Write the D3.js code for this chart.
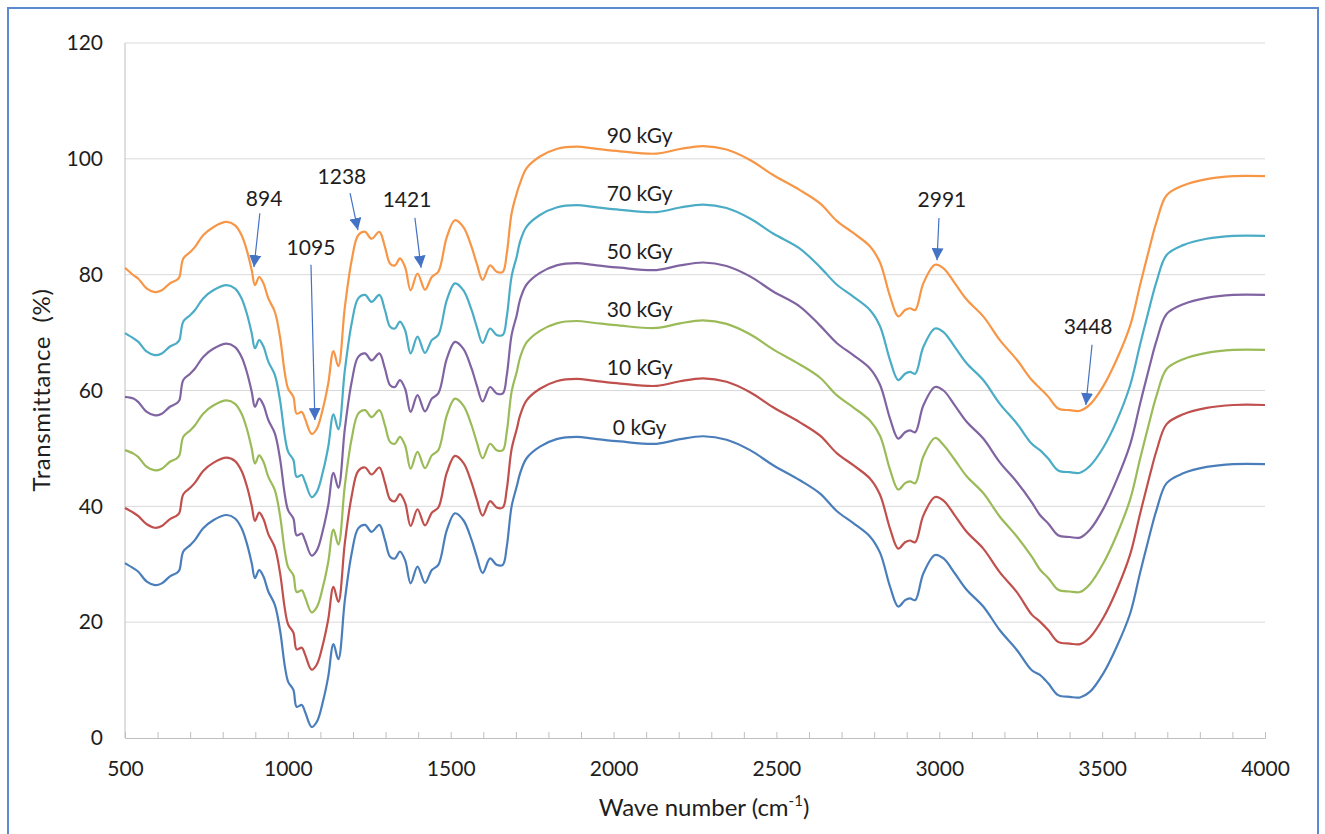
<!DOCTYPE html>
<html>
<head>
<meta charset="utf-8">
<script src="https://cdn.jsdelivr.net/npm/d3@7"></script>
<style>
  body { margin: 0; background: #fff; }
  text { font-family: Lato, "Open Sans", sans-serif; fill: #1e1e1e; }
</style>
</head>
<body>
<div id="chart"></div>
<script>
// FTIR spectra, stacked by dose
var wavenumbers = [500, 526, 541, 567, 592, 613, 638, 659, 667, 679, 700, 715, 740, 771, 812, 838, 858, 874, 889, 899,
  912, 925, 940, 960, 976, 991, 1001, 1017, 1027, 1043, 1053, 1073, 1089, 1109, 1124, 1140, 1155, 1175, 1196, 1216,
  1237, 1257, 1281, 1298, 1314, 1329, 1344, 1360, 1377, 1398, 1421, 1442, 1462, 1488, 1513, 1539, 1564, 1580, 1598, 1621,
  1641, 1660, 1672, 1687, 1703, 1713, 1733, 1774, 1825, 1887, 1938, 2020, 2132, 2204, 2275, 2347, 2419, 2490, 2572, 2634,
  2685, 2736, 2787, 2818, 2849, 2874, 2895, 2910, 2926, 2951, 2987, 3013, 3048, 3084, 3135, 3186, 3238, 3284, 3309, 3335,
  3365, 3401, 3432, 3463, 3504, 3545, 3586, 3616, 3647, 3667, 3698, 3749, 3821, 3903, 4000];

var dose0 = [30.2, 29.3, 28.7, 27.0, 26.4, 26.7, 27.9, 28.5, 29.0, 32.2, 33.3, 34.2, 36.2, 37.6, 38.5, 37.9, 36.2, 33.6, 30.2, 27.6,
  29.0, 27.9, 25.3, 23.0, 18.6, 12.3, 9.7, 8.3, 5.4, 5.7, 4.5, 1.9, 2.8, 6.6, 10.6, 16.2, 13.6, 23.8, 31.9, 36.2,
  36.8, 35.6, 36.8, 34.2, 31.3, 31.0, 32.2, 30.7, 26.7, 29.6, 26.8, 29.0, 29.9, 35.9, 38.8, 37.6, 34.2, 31.3, 28.5, 31.0,
  29.9, 29.9, 33.0, 40.0, 43.5, 45.7, 48.3, 50.3, 51.6, 52.0, 51.7, 51.2, 50.8, 51.6, 52.1, 51.5, 49.7, 47.1, 44.5, 42.2,
  39.2, 37.1, 34.8, 32.0, 26.1, 22.7, 23.8, 24.1, 23.8, 28.4, 31.6, 31.0, 28.4, 25.6, 22.7, 18.6, 15.2, 11.7, 10.9, 9.4,
  7.4, 7.1, 7.0, 8.0, 11.2, 15.8, 21.5, 28.4, 35.3, 39.4, 44.0, 45.7, 46.8, 47.3, 47.3];

var dose10 = [39.7, 38.9, 38.3, 36.9, 36.3, 36.6, 37.8, 38.4, 38.9, 42.1, 43.2, 44.1, 46.1, 47.5, 48.4, 47.8, 46.1, 43.5, 40.1, 37.5,
  38.9, 37.8, 35.2, 32.9, 28.5, 22.2, 19.6, 18.2, 15.3, 15.6, 14.4, 11.8, 12.7, 16.5, 20.5, 26.1, 23.5, 33.7, 41.8, 46.1,
  46.7, 45.5, 46.7, 44.1, 41.2, 40.9, 42.1, 40.6, 36.6, 39.5, 36.7, 38.9, 39.8, 45.8, 48.7, 47.5, 44.1, 41.2, 38.4, 40.9,
  39.8, 39.8, 42.9, 49.9, 53.4, 55.7, 58.3, 60.3, 61.6, 62.0, 61.7, 61.2, 60.8, 61.6, 62.1, 61.5, 59.7, 57.1, 54.5, 52.2,
  49.2, 47.1, 44.8, 42.0, 36.1, 32.7, 33.8, 34.1, 33.8, 38.4, 41.6, 41.0, 38.4, 35.6, 32.7, 28.6, 25.2, 21.3, 20.1, 18.6,
  16.6, 16.3, 16.2, 17.4, 20.8, 25.6, 31.7, 38.6, 45.5, 49.6, 54.2, 55.9, 57.0, 57.5, 57.5];

var dose30 = [49.7, 49.1, 48.5, 46.8, 46.2, 46.5, 47.7, 48.3, 48.8, 52.0, 53.1, 54.0, 56.0, 57.4, 58.3, 57.7, 56.0, 53.4, 50.0, 47.4,
  48.8, 47.7, 45.1, 42.8, 38.4, 32.1, 29.5, 28.1, 25.2, 25.5, 24.3, 21.7, 22.6, 26.4, 30.4, 36.0, 33.4, 43.6, 51.7, 56.0,
  56.6, 55.4, 56.6, 54.0, 51.1, 50.8, 52.0, 50.5, 46.5, 49.4, 46.6, 48.8, 49.7, 55.7, 58.6, 57.4, 54.0, 51.1, 48.3, 50.8,
  49.7, 49.7, 52.8, 59.8, 63.3, 65.7, 68.3, 70.3, 71.6, 72.0, 71.7, 71.2, 70.8, 71.6, 72.1, 71.5, 69.7, 67.1, 64.5, 62.2,
  59.2, 57.1, 54.8, 52.2, 46.3, 42.9, 44.0, 44.3, 44.0, 48.6, 51.8, 50.6, 48.0, 45.2, 42.3, 38.2, 34.8, 31.3, 29.1, 27.6,
  25.6, 25.3, 25.2, 26.6, 30.2, 35.1, 41.2, 48.1, 55.0, 59.1, 63.7, 65.4, 66.5, 67.0, 67.0];

var dose50 = [58.9, 58.6, 58.0, 56.3, 55.7, 56.0, 57.2, 57.8, 58.3, 61.8, 62.9, 63.8, 65.8, 67.2, 68.1, 67.5, 65.8, 63.2, 59.8, 57.2,
  58.6, 57.5, 54.9, 52.6, 48.2, 41.9, 39.3, 37.9, 35.0, 35.3, 34.1, 31.5, 32.4, 36.2, 40.2, 45.8, 43.2, 53.4, 61.5, 65.8,
  66.4, 65.2, 66.4, 63.8, 60.9, 60.6, 61.8, 60.3, 56.3, 59.2, 56.4, 58.6, 59.5, 65.5, 68.4, 67.2, 63.8, 60.9, 58.1, 60.6,
  59.5, 59.5, 62.6, 69.6, 73.1, 75.7, 78.3, 80.3, 81.6, 82.0, 81.7, 81.2, 80.8, 81.6, 82.1, 81.5, 79.7, 77.1, 74.5, 71.2,
  68.2, 66.1, 63.8, 61.0, 55.1, 51.7, 52.8, 53.1, 52.8, 57.4, 60.6, 60.0, 57.4, 54.6, 51.7, 47.6, 44.2, 40.7, 38.5, 37.0,
  35.0, 34.7, 34.6, 36.0, 39.6, 44.6, 50.7, 57.6, 64.5, 68.6, 73.2, 74.9, 76.0, 76.5, 76.5];

var dose70 = [69.9, 69.0, 68.4, 66.7, 66.1, 66.4, 67.6, 68.2, 68.7, 71.9, 73.0, 73.9, 75.9, 77.3, 78.2, 77.6, 75.9, 73.3, 69.9, 67.3,
  68.7, 67.6, 65.0, 62.7, 58.3, 52.0, 49.4, 48.0, 45.1, 45.4, 44.2, 41.6, 42.5, 46.3, 50.3, 55.9, 53.3, 63.5, 71.6, 75.9,
  76.5, 75.3, 76.5, 73.9, 71.0, 70.7, 71.9, 70.4, 66.4, 69.3, 66.5, 68.7, 69.6, 75.6, 78.5, 77.3, 73.9, 71.0, 68.2, 70.7,
  69.6, 69.6, 72.7, 79.7, 83.2, 85.7, 88.3, 90.3, 91.6, 92.0, 91.7, 91.2, 90.8, 91.6, 92.1, 91.5, 89.7, 87.1, 84.5, 81.3,
  78.3, 76.2, 73.9, 71.1, 65.2, 61.8, 62.9, 63.2, 62.9, 67.5, 70.7, 70.1, 67.5, 64.7, 61.8, 57.7, 54.3, 50.8, 49.7, 48.2,
  46.2, 45.9, 45.8, 47.0, 50.2, 54.8, 60.9, 67.8, 74.7, 78.8, 83.4, 85.1, 86.2, 86.7, 86.7];

var dose90 = [81.2, 79.9, 79.3, 77.6, 77.0, 77.3, 78.5, 79.1, 79.6, 82.8, 83.9, 84.8, 86.8, 88.2, 89.1, 88.5, 86.8, 84.2, 80.8, 78.2,
  79.6, 78.5, 75.9, 73.6, 69.2, 62.9, 60.3, 58.9, 56.0, 56.3, 55.1, 52.5, 53.4, 57.2, 61.2, 66.8, 64.2, 74.4, 82.5, 86.8,
  87.4, 86.2, 87.4, 84.8, 81.9, 81.6, 82.8, 81.3, 77.3, 80.2, 77.4, 79.6, 80.5, 86.5, 89.4, 88.2, 84.8, 81.9, 79.1, 81.6,
  80.5, 80.5, 83.6, 90.6, 94.1, 95.8, 98.4, 100.4, 101.7, 102.1, 101.8, 101.3, 100.9, 101.7, 102.2, 101.6, 99.8, 97.2, 94.6, 92.3,
  89.3, 87.2, 84.9, 82.1, 76.2, 72.8, 73.9, 74.2, 73.9, 78.5, 81.7, 81.1, 78.5, 75.7, 72.8, 68.7, 65.3, 61.8, 60.4, 58.9,
  56.9, 56.6, 56.5, 57.6, 60.8, 65.4, 71.2, 78.1, 85.0, 89.1, 93.7, 95.4, 96.5, 97.0, 97.0];

var seriesNames = ['0 kGy', '10 kGy', '30 kGy', '50 kGy', '70 kGy', '90 kGy'];
var seriesValues = [dose0, dose10, dose30, dose50, dose70, dose90];
var seriesColors = ['#4a7ebb', '#c0504d', '#9bbb59', '#8064a2', '#4bacc6', '#f79646'];
// where each dose label sits (wave number, transmittance)
var labelWn = 2080;
var labelY = [53.5, 64.0, 74.0, 84.0, 94.0, 104.0];

var yTicks = [0, 20, 40, 60, 80, 100, 120];
var xTicks = [500, 1000, 1500, 2000, 2500, 3000, 3500, 4000];

// peak annotations: label, text position, arrow tail and tip (wave number, transmittance)
var peakLabels = ['894', '1095', '1238', '1421', '2991', '3448'];
var peakText = [[927, 93.1], [1071, 84.6], [1166, 96.9], [1366, 92.9], [3008, 92.9], [3457, 71.0]];
var peakTail = [[914, 90.6], [1071, 81.7], [1191, 94.1], [1390, 89.8], [2999, 89.8], [3469, 67.9]];
var peakTip = [[896, 81.3], [1083, 54.9], [1215, 87.7], [1409, 81.2], [2993, 82.5], [3450, 57.5]];

var W = 1325, H = 834;
var margin = { top: 43, left: 125, right: 60, bottom: 96 };
var w = W - margin.left - margin.right;
var h = H - margin.top - margin.bottom;

var svg = d3.select('#chart').append('svg')
    .attr('width', W)
    .attr('height', H);

// outer blue frame
svg.append('rect')
    .attr('x', 8).attr('y', 8)
    .attr('width', 1310).attr('height', 840)
    .attr('fill', 'none')
    .attr('stroke', '#5b8ad0')
    .attr('stroke-width', 2);

var g = svg.append('g')
    .attr('transform', 'translate(' + margin.left + ',' + margin.top + ')');

var xScale = d3.scaleLinear().domain([500, 4000]).range([0, w]);
var yScale = d3.scaleLinear().domain([0, 120]).range([h, 0]);

// horizontal gridlines
g.selectAll('.grid')
    .data(yTicks.slice(1))
    .enter().append('line')
    .attr('class', 'grid')
    .attr('x1', 0).attr('x2', w)
    .attr('y1', function (d) { return yScale(d); })
    .attr('y2', function (d) { return yScale(d); })
    .attr('stroke', '#d9d9d9')
    .attr('stroke-width', 1);

// y axis (labels only, line drawn separately)
var yAxis = d3.axisLeft(yScale).tickValues(yTicks).tickSize(0).tickPadding(22);
var yg = g.append('g').call(yAxis);
yg.select('.domain').remove();
yg.selectAll('text').attr('font-size', 21);

g.append('line')
    .attr('x1', 0).attr('x2', 0)
    .attr('y1', 0).attr('y2', h)
    .attr('stroke', '#bfbfbf');

// x axis: minor ticks every 100 pointing up, labels every 500
var xMinor = d3.axisBottom(xScale).tickValues(d3.range(500, 4001, 100)).tickSize(-6).tickFormat('');
var xm = g.append('g')
    .attr('transform', 'translate(0,' + h + ')')
    .call(xMinor);
xm.select('.domain').attr('stroke', '#bfbfbf');
xm.selectAll('.tick line').attr('stroke', '#bfbfbf');

var xAxis = d3.axisBottom(xScale).tickValues(xTicks).tickSize(0).tickPadding(23).tickFormat(d3.format('d'));
var xg = g.append('g')
    .attr('transform', 'translate(0,' + h + ')')
    .call(xAxis);
xg.select('.domain').remove();
xg.selectAll('text').attr('font-size', 21);

// axis titles
var xt = svg.append('text')
    .attr('x', margin.left + w / 2 + 9)
    .attr('y', 816)
    .attr('text-anchor', 'middle')
    .attr('font-size', 24);
xt.append('tspan').text('Wave number (cm');
xt.append('tspan').text('-1').attr('font-size', 15).attr('dy', -10);
xt.append('tspan').text(')').attr('dy', 10);

svg.append('text')
    .attr('transform', 'translate(50,' + 390 + ') rotate(-90)')
    .attr('text-anchor', 'middle')
    .attr('font-size', 24)
    .attr('letter-spacing', 0.6)
    .attr('xml:space', 'preserve')
    .text('Transmittance  (%)');

// spectra
var line = d3.line()
    .x(function (d, i) { return xScale(wavenumbers[i]); })
    .y(function (d) { return yScale(d); })
    .curve(d3.curveCatmullRom.alpha(0.5));

g.selectAll('.spectrum')
    .data(seriesValues)
    .enter().append('path')
    .attr('class', 'spectrum')
    .attr('d', line)
    .attr('fill', 'none')
    .attr('stroke', function (d, i) { return seriesColors[i]; })
    .attr('stroke-width', 2.2)
    .attr('stroke-linejoin', 'round');

// dose labels
g.selectAll('.dose_label')
    .data(seriesNames)
    .enter().append('text')
    .attr('class', 'dose_label')
    .attr('x', xScale(labelWn))
    .attr('y', function (d, i) { return yScale(labelY[i]); })
    .attr('dy', '0.35em')
    .attr('text-anchor', 'middle')
    .attr('font-size', 21)
    .text(function (d) { return d; });

// arrow head
svg.append('defs').append('marker')
    .attr('id', 'head')
    .attr('viewBox', '0 0 10 10')
    .attr('refX', 10).attr('refY', 5)
    .attr('markerUnits', 'userSpaceOnUse')
    .attr('markerWidth', 12).attr('markerHeight', 12)
    .attr('orient', 'auto')
    .append('path')
    .attr('d', 'M0,0 L10,5 L0,10 Z')
    .attr('fill', '#4472c4');

g.selectAll('.peak_arrow')
    .data(peakLabels)
    .enter().append('line')
    .attr('class', 'peak_arrow')
    .attr('x1', function (d, i) { return xScale(peakTail[i][0]); })
    .attr('y1', function (d, i) { return yScale(peakTail[i][1]); })
    .attr('x2', function (d, i) { return xScale(peakTip[i][0]); })
    .attr('y2', function (d, i) { return yScale(peakTip[i][1]); })
    .attr('stroke', '#4472c4')
    .attr('stroke-width', 1.2)
    .attr('marker-end', 'url(#head)');

g.selectAll('.peak_label')
    .data(peakLabels)
    .enter().append('text')
    .attr('class', 'peak_label')
    .attr('x', function (d, i) { return xScale(peakText[i][0]); })
    .attr('y', function (d, i) { return yScale(peakText[i][1]); })
    .attr('dy', '0.35em')
    .attr('text-anchor', 'middle')
    .attr('font-size', 21)
    .text(function (d) { return d; });
</script>
</body>
</html>
